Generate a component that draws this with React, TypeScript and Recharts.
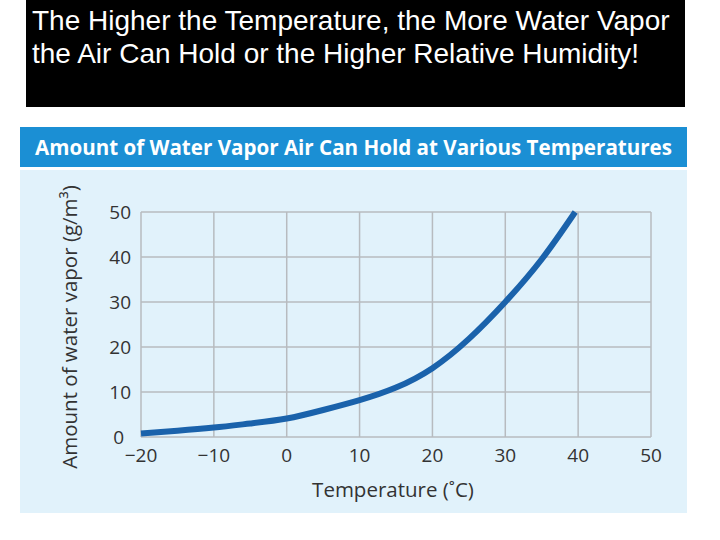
import React from "react";
import { CartesianGrid, Line, LineChart, XAxis, YAxis } from "recharts";

// values
const temperatures = [-20, -15, -10, -5, 0, 5, 10, 15, 20, 25, 30, 35, 39.6];
const vaporAmounts = [0.8, 1.4, 2.1, 3.0, 4.1, 6.0, 8.2, 11.0, 15.3, 21.8, 30, 39.5, 50];
const xTicks = [-20, -10, 0, 10, 20, 30, 40, 50];
const yTicks = [0, 10, 20, 30, 40, 50];

const data = temperatures.map((t, i) => ({ t, v: vaporAmounts[i] }));

const tickStyle = { fontSize: 19, fill: "#333", fontFamily: "Open Sans" };

// y tick; the 0 label is nudged left so it clears the -20 label below it
function YTick(props: any) {
  const { x, y, payload } = props;
  const shift = payload.value === 0 ? 7 : 0;
  return (
    <text
      x={x - shift}
      y={y}
      dy="0.355em"
      textAnchor="end"
      fontSize={19}
      fill="#333"
      fontFamily="Open Sans"
    >
      {payload.value}
    </text>
  );
}

export default function App() {
  return (
    <div
      style={{
        position: "fixed",
        left: 0,
        top: 0,
        width: 720,
        height: 540,
        background: "#fff",
        overflow: "hidden",
      }}
    >
      {/* black slide title box */}
      <div
        style={{
          position: "absolute",
          left: 26,
          top: 0,
          width: 659,
          height: 107,
          background: "#000",
          color: "#fff",
          fontFamily: "Liberation Sans",
          fontSize: 28,
          lineHeight: "33px",
          paddingLeft: 6,
          paddingTop: 4,
          boxSizing: "border-box",
          whiteSpace: "nowrap",
        }}
      >
        The Higher the Temperature, the More Water Vapor
        <br />
        the Air Can Hold or the Higher Relative Humidity!
      </div>

      {/* blue header bar */}
      <svg
        width={667}
        height={40}
        style={{ position: "absolute", left: 20, top: 127 }}
      >
        <rect x={0} y={0} width={667} height={40} fill="#1b8fd4" />
        <text
          x={15}
          y={28}
          fill="#fff"
          fontFamily="Open Sans"
          fontWeight="bold"
          fontSize={21}
          textLength={637}
          lengthAdjust="spacingAndGlyphs"
        >
          Amount of Water Vapor Air Can Hold at Various Temperatures
        </text>
      </svg>

      {/* light blue panel */}
      <div
        style={{
          position: "absolute",
          left: 20,
          top: 170,
          width: 667,
          height: 343,
          background: "#e1f2fb",
        }}
      />

      <div style={{ position: "absolute", left: 0, top: 0 }}>
        <LineChart
          width={720}
          height={540}
          data={data}
          margin={{ top: 212, right: 69, bottom: 73, left: 81 }}
        >
          <CartesianGrid stroke="#b7bbbf" strokeWidth={1.5} />
          <XAxis
            type="number"
            dataKey="t"
            domain={[-20, 50]}
            ticks={xTicks}
            axisLine={false}
            tickLine={false}
            tickSize={0}
            tickMargin={12}
            height={30}
            tick={tickStyle}
            tickFormatter={(v: number) => (v < 0 ? "\u2212" + Math.abs(v) : String(v))}
          />
          <YAxis
            type="number"
            domain={[0, 50]}
            ticks={yTicks}
            axisLine={false}
            tickLine={false}
            tickSize={0}
            tickMargin={10}
            width={60}
            tick={<YTick />}
          />
          <Line
            type="natural"
            dataKey="v"
            stroke="#1a62ab"
            strokeWidth={6}
            dot={false}
            isAnimationActive={false}
          />
        </LineChart>
      </div>

      {/* axis titles */}
      <div
        style={{
          position: "absolute",
          left: 69,
          top: 327,
          transform: "translate(-50%, -50%) rotate(-90deg)",
          fontFamily: "Open Sans",
          fontSize: 20.5,
          color: "#333",
          whiteSpace: "nowrap",
        }}
      >
        Amount of water vapor (g/m³)
      </div>
      <div
        style={{
          position: "absolute",
          left: 393,
          top: 489,
          transform: "translate(-50%, -50%)",
          fontFamily: "Open Sans",
          fontSize: 20.5,
          color: "#333",
          whiteSpace: "nowrap",
        }}
      >
        Temperature (˚C)
      </div>
    </div>
  );
}
